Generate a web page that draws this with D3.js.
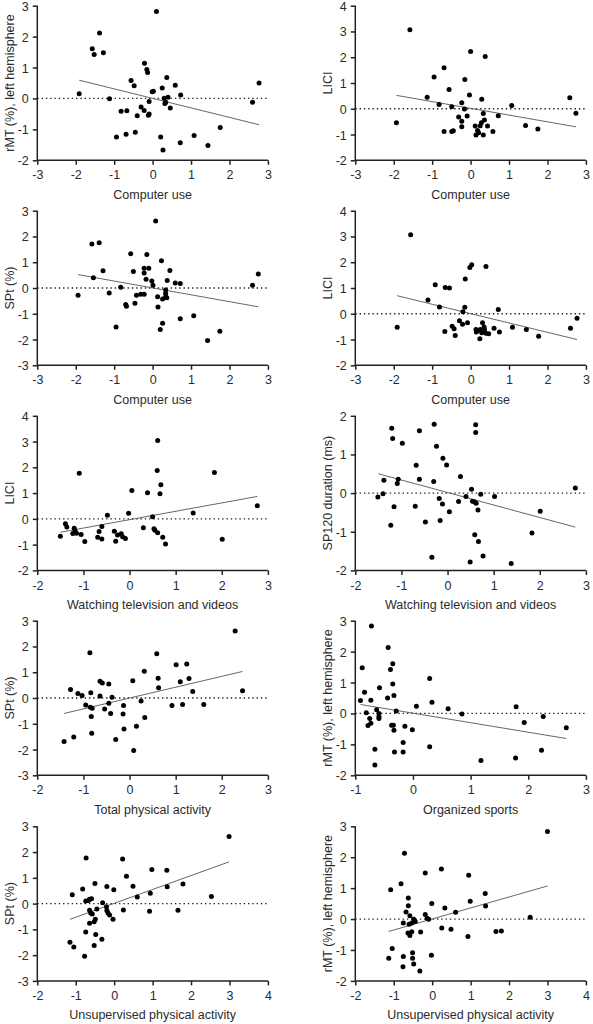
<!DOCTYPE html>
<html>
<head>
<meta charset="utf-8">
<script src="https://cdn.jsdelivr.net/npm/d3@7"></script>
<style>
html,body{margin:0;padding:0;background:#fff;}
svg{display:block;}
text{font-family:"Liberation Sans",Arial,Helvetica,sans-serif;fill:#2b2b2b;}
</style>
</head>
<body>
<svg id="chart" width="593" height="1024"></svg>
<script>
// ---------- Panel 1: Computer use vs rMT ----------
const p1x = [0.10,-1.38,-1.57,-1.52,-1.28,-0.21,-0.15,-0.13,-0.56,-0.48,0.37,0.59,0.73,0.25,-0.01,0.02,-1.91,-1.12,-0.09,0.30,0.40,0.32,0.34,0.46,-0.82,-0.67,-0.30,-0.22,-0.40,-0.09,-0.11,-0.94,-0.69,-0.45,0.21,0.27,0.72,1.08,1.44,1.76,2.60,2.77];
const p1y = [2.81,2.12,1.61,1.42,1.48,1.14,0.94,0.84,0.58,0.41,0.68,0.43,0.11,0.34,0.22,0.23,0.15,-0.01,-0.10,0.01,0.04,-0.16,-0.12,-0.31,-0.41,-0.40,-0.28,-0.39,-0.56,-0.50,-0.54,-1.25,-1.16,-1.09,-1.25,-1.67,-1.43,-1.20,-1.52,-0.94,-0.12,0.50];
const p1fitX = [-1.91,2.77];
const p1fitY = [0.59,-0.85];

// ---------- Panel 2: Computer use vs LICI ----------
const p2x = [-1.58,0.00,0.38,-0.69,-0.95,-0.15,-0.56,-0.03,-1.13,0.29,2.58,-0.82,-0.49,1.07,-0.23,-0.16,-0.09,-0.31,-0.23,0.33,0.72,2.74,-1.93,0.36,0.28,-0.23,0.12,0.25,0.44,1.43,1.75,-0.69,-0.45,-0.49,0.18,0.21,0.14,0.33,0.58];
const p2y = [3.07,2.22,2.03,1.59,1.23,1.14,0.75,0.53,0.45,0.37,0.43,0.17,0.08,0.13,0.23,-0.01,-0.28,-0.32,-0.48,-0.18,-0.27,-0.17,-0.54,-0.44,-0.54,-0.70,-0.67,-0.66,-0.67,-0.65,-0.79,-0.88,-0.85,-0.88,-0.84,-0.93,-1.02,-1.02,-0.88];
const p2fitX = [-1.93,2.74];
const p2fitY = [0.52,-0.70];

// ---------- Panel 3: Computer use vs SPt ----------
const p3x = [0.08,-1.58,-1.39,-0.57,-0.15,0.23,-1.29,-0.50,-0.22,-0.10,-0.22,0.45,-1.54,-0.17,-0.02,0.01,0.38,0.59,0.72,2.60,2.75,-1.94,-1.13,-0.83,-0.42,-0.31,-0.22,0.13,0.26,0.34,0.34,0.34,0.37,-0.46,-0.70,-0.68,0.14,-0.95,0.26,0.20,0.72,1.07,1.43,1.75];
const p3y = [2.60,1.71,1.76,1.33,1.30,1.06,0.67,0.64,0.77,0.77,0.58,0.68,0.40,0.34,0.27,0.11,0.29,0.19,0.17,0.11,0.54,-0.28,-0.19,0.03,-0.28,-0.24,-0.24,-0.34,-0.43,-0.08,-0.21,-0.34,-0.38,-0.59,-0.64,-0.71,-0.74,-1.51,-1.37,-1.61,-1.19,-1.08,-2.04,-1.68];
const p3fitX = [-1.94,2.75];
const p3fitY = [0.52,-0.73];

// ---------- Panel 4: Computer use vs LICI ----------
const p4x = [-1.56,-0.02,0.03,0.40,-0.14,-0.92,-0.66,-0.55,-1.11,-0.81,-0.15,-0.20,0.72,2.77,-1.91,-0.29,-0.21,-0.08,-0.48,-0.43,-0.67,-0.40,0.14,0.18,0.25,0.31,0.35,0.36,0.15,0.29,0.40,0.47,0.24,0.61,0.75,1.09,1.45,1.77,2.60];
const p4y = [3.07,1.80,1.90,1.83,1.35,1.13,1.02,1.00,0.53,0.26,0.25,0.08,0.17,-0.17,-0.52,-0.27,-0.41,-0.35,-0.48,-0.58,-0.69,-0.84,-0.61,-0.66,-0.61,-0.35,-0.51,-0.61,-0.71,-0.74,-0.76,-0.78,-0.97,-0.56,-0.71,-0.52,-0.61,-0.87,-0.56];
const p4fitX = [-1.91,2.77];
const p4fitY = [0.70,-1.00];

// ---------- Panel 5: Watching TV vs LICI ----------
const p5x = [0.61,0.60,1.84,-1.09,0.68,0.66,0.05,0.39,-0.48,-0.02,0.50,1.38,2.77,-1.39,-1.36,-1.20,-1.18,-1.23,-1.15,-1.05,-1.50,-0.97,-0.60,-0.66,-0.69,-0.60,-0.33,-0.30,-0.26,-0.18,-0.15,-0.09,0.30,0.53,0.55,0.61,0.72,0.78,2.01];
const p5y = [3.04,1.88,1.80,1.77,1.32,0.97,1.10,1.01,0.14,0.22,0.08,0.23,0.51,-0.19,-0.32,-0.36,-0.47,-0.57,-0.56,-0.61,-0.67,-0.88,-0.30,-0.49,-0.71,-0.78,-0.48,-0.87,-0.63,-0.58,-0.69,-0.76,-0.34,-0.38,-0.44,-0.54,-0.71,-0.98,-0.79];
const p5fitX = [-1.50,2.77];
const p5fitY = [-0.52,0.87];

// ---------- Panel 6: Watching TV vs SP120 duration ----------
const p6x = [-1.21,-1.19,-0.61,-0.29,0.61,0.61,-0.98,-0.24,-0.10,-0.02,-0.68,0.28,-1.38,-1.07,-1.09,-0.61,-0.30,0.52,2.77,-1.51,-1.40,0.40,0.72,1.02,-0.18,0.54,0.59,0.62,0.24,-0.11,-1.16,-0.70,0.04,0.66,2.01,-0.48,-0.16,-1.23,0.59,1.83,0.67,-0.34,0.77,0.49,1.38];
const p6y = [1.68,1.41,1.61,1.78,1.77,1.57,1.29,1.21,0.90,0.73,0.72,0.43,0.33,0.36,0.25,0.36,0.30,0.10,0.13,-0.10,-0.02,-0.09,-0.03,-0.09,-0.14,-0.21,-0.23,-0.26,-0.22,-0.28,-0.35,-0.34,-0.48,-0.44,-0.47,-0.75,-0.71,-0.83,-1.08,-1.03,-1.25,-1.66,-1.63,-1.78,-1.82];
const p6fitX = [-1.50,2.77];
const p6fitY = [0.50,-0.88];

// ---------- Panel 7: Total physical activity vs SPt ----------
const p7x = [2.29,-0.86,0.59,1.01,1.24,0.32,-0.64,-0.59,-0.45,0.07,0.62,1.10,1.29,-1.28,-1.12,-1.03,-0.84,-0.64,0.63,1.37,2.45,-0.38,-0.95,-0.85,-0.81,-0.54,-0.45,-0.41,-0.13,0.25,0.92,1.15,1.61,-0.83,-0.14,0.33,-0.12,0.15,-0.82,-1.21,-1.42,-0.30,0.09];
const p7y = [2.60,1.76,1.72,1.29,1.32,1.04,0.65,0.58,0.54,0.67,0.77,0.63,0.76,0.33,0.17,0.10,0.20,0.08,0.40,0.25,0.28,0.03,-0.27,-0.36,-0.40,-0.43,-0.20,-0.60,-0.29,-0.12,-0.29,-0.25,-0.25,-0.72,-0.62,-0.76,-1.20,-1.10,-1.37,-1.51,-1.69,-1.61,-2.04];
const p7fitX = [-1.42,2.45];
const p7fitY = [-0.60,1.03];

// ---------- Panel 8: Organized sports vs rMT ----------
const p8x = [-0.72,-0.43,-0.35,-0.39,-0.88,0.29,-0.35,-0.58,-0.84,-0.33,-0.44,-0.91,-0.73,0.33,0.06,0.61,1.79,-0.63,-0.29,-0.81,-0.59,-0.59,-0.59,-0.75,0.85,2.26,1.93,-0.73,-0.78,-0.37,-0.34,-0.14,-0.33,-0.01,2.66,-0.17,0.29,-0.66,-0.32,-0.17,2.23,1.78,1.18,-0.66];
const p8y = [2.83,2.13,1.61,1.42,1.48,1.13,0.95,0.83,0.69,0.58,0.50,0.42,0.43,0.36,0.23,0.15,0.22,0.12,0.08,0.02,0.00,-0.11,-0.16,-0.16,-0.02,-0.10,-0.29,-0.32,-0.39,-0.38,-0.38,-0.41,-0.54,-0.53,-0.46,-0.94,-1.08,-1.16,-1.25,-1.25,-1.19,-1.44,-1.52,-1.67];
const p8fitX = [-0.91,2.66];
const p8fitY = [0.29,-0.81];

// ---------- Panel 9: Unsupervised physical activity vs SPt ----------
const p9x = [2.99,-0.73,0.22,0.98,1.37,0.32,-0.82,-0.50,-0.19,-0.01,0.49,1.38,1.79,-1.09,0.94,0.60,2.53,-0.74,-0.67,-0.64,-0.59,-0.30,-0.20,-0.64,-0.61,-0.57,-0.45,-0.19,-0.16,-0.12,-0.03,0.24,0.92,1.66,-0.64,-0.52,-0.49,-0.74,-0.48,-0.32,-1.15,-1.05,-0.52,-0.77];
const p9y = [2.60,1.77,1.73,1.32,1.29,1.06,0.57,0.78,0.66,0.54,0.67,0.65,0.76,0.34,0.40,0.26,0.28,0.10,0.12,0.17,0.19,0.03,-0.12,-0.26,-0.36,-0.40,-0.21,-0.27,-0.36,-0.44,-0.61,-0.25,-0.30,-0.26,-0.76,-0.70,-0.61,-1.10,-1.20,-1.38,-1.50,-1.68,-1.63,-2.04];
const p9fitX = [-1.15,2.99];
const p9fitY = [-0.61,1.62];

// ---------- Panel 10: Unsupervised physical activity vs rMT ----------
const p10x = [3.00,-0.72,0.24,-0.18,0.95,-0.81,-1.08,1.38,-0.62,-0.01,0.99,-0.62,1.39,0.33,-0.68,0.61,-0.58,-0.18,-0.48,-0.44,-0.13,-0.09,2.55,-0.75,-0.60,-0.53,0.25,0.49,-0.63,-0.53,-0.58,-0.30,1.66,1.80,0.93,-1.04,-0.51,-1.13,-0.75,-0.51,-0.02,-0.76,-0.48,-0.32];
const p10y = [2.83,2.13,1.62,1.49,1.42,1.14,0.95,0.83,0.68,0.50,0.58,0.43,0.42,0.36,0.23,0.22,0.11,0.15,-0.01,-0.08,0.03,-0.01,0.06,-0.13,-0.17,-0.13,-0.29,-0.33,-0.45,-0.41,-0.53,-0.42,-0.40,-0.39,-0.56,-0.95,-1.09,-1.27,-1.21,-1.27,-1.17,-1.54,-1.45,-1.68];
const p10fitX = [-1.13,3.00];
const p10fitY = [-0.40,1.07];

// ---------- Axis ticks and labels ----------
const xTicksCU = [-3,-2,-1,0,1,2,3];
const xTicksTV = [-2,-1,0,1,2,3];
const xTicksOS = [-1,0,1,2,3];
const xTicksUP = [-2,-1,0,1,2,3,4];
const yTicksA = [-2,-1,0,1,2,3];
const yTicksB = [-2,-1,0,1,2,3,4];
const yTicksC = [-3,-2,-1,0,1,2,3];
const yTicksD = [-2,-1,0,1,2];

const xTitles = ["Computer use","Computer use","Computer use","Computer use",
  "Watching television and videos","Watching television and videos",
  "Total physical activity","Organized sports",
  "Unsupervised physical activity","Unsupervised physical activity"];
const yTitles = ["rMT (%), left hemisphere","LICI","SPt (%)","LICI","LICI",
  "SP120 duration (ms)","SPt (%)","rMT (%), left hemisphere","SPt (%)","rMT (%), left hemisphere"];

// ---------- Panel assembly ----------
const panels = [
  {x:p1x,y:p1y,fx:p1fitX,fy:p1fitY,xt:xTicksCU,yt:yTicksA},
  {x:p2x,y:p2y,fx:p2fitX,fy:p2fitY,xt:xTicksCU,yt:yTicksB},
  {x:p3x,y:p3y,fx:p3fitX,fy:p3fitY,xt:xTicksCU,yt:yTicksC},
  {x:p4x,y:p4y,fx:p4fitX,fy:p4fitY,xt:xTicksCU,yt:yTicksB},
  {x:p5x,y:p5y,fx:p5fitX,fy:p5fitY,xt:xTicksTV,yt:yTicksB},
  {x:p6x,y:p6y,fx:p6fitX,fy:p6fitY,xt:xTicksTV,yt:yTicksD},
  {x:p7x,y:p7y,fx:p7fitX,fy:p7fitY,xt:xTicksTV,yt:yTicksC},
  {x:p8x,y:p8y,fx:p8fitX,fy:p8fitY,xt:xTicksOS,yt:yTicksA},
  {x:p9x,y:p9y,fx:p9fitX,fy:p9fitY,xt:xTicksUP,yt:yTicksC},
  {x:p10x,y:p10y,fx:p10fitX,fy:p10fitY,xt:xTicksUP,yt:yTicksA}
];

const colLeft = [37.3, 355.3];
const plotW = 230.6;
const rowTop = [5.7, 210.7, 415.8, 620.7, 826.3];
const plotH = 154.6;
const ink = "#222";
const fs = 12.5;

const svg = d3.select("#chart");

panels.forEach((p, i) => {
  const col = i % 2, row = Math.floor(i / 2);
  const g = svg.append("g").attr("transform", `translate(${colLeft[col]},${rowTop[row]})`);
  const xs = d3.scaleLinear().domain(d3.extent(p.xt)).range([0, plotW]);
  const ys = d3.scaleLinear().domain(d3.extent(p.yt)).range([plotH, 0]);

  // zero reference line (dotted)
  g.append("line")
    .attr("x1", xs.range()[0]).attr("x2", xs.range()[1])
    .attr("y1", ys(0)).attr("y2", ys(0))
    .attr("stroke", ink).attr("stroke-width", 1.3)
    .attr("stroke-dasharray", "1.4,2.9");

  // regression line
  g.append("line")
    .attr("x1", xs(p.fx[0])).attr("y1", ys(p.fy[0]))
    .attr("x2", xs(p.fx[1])).attr("y2", ys(p.fy[1]))
    .attr("stroke", "#555").attr("stroke-width", 0.9);

  // points
  g.append("g").selectAll("circle")
    .data(d3.range(p.x.length))
    .join("circle")
    .attr("cx", k => xs(p.x[k]))
    .attr("cy", k => ys(p.y[k]))
    .attr("r", 2.5)
    .attr("fill", "#000");

  // axes
  const xAxis = d3.axisBottom(xs).tickValues(p.xt).tickSize(4.5).tickPadding(4).tickFormat(d3.format("d"));
  const yAxis = d3.axisLeft(ys).tickValues(p.yt).tickSize(4.5).tickPadding(4).tickFormat(d3.format("d"));
  const gx = g.append("g").attr("transform", `translate(0,${plotH})`).call(xAxis);
  const gy = g.append("g").call(yAxis);
  [gx, gy].forEach(a => {
    a.select(".domain").attr("stroke", ink).attr("stroke-width", 1.5)
      .attr("d", a === gx ? `M0,0H${plotW}` : `M0,${plotH}V0`);
    a.selectAll(".tick line").attr("stroke", ink).attr("stroke-width", 1.5);
    a.selectAll(".tick text")
      .attr("font-size", fs)
      .attr("font-family", '"Liberation Sans",Arial,sans-serif')
      .attr("fill", "#2b2b2b")
      .text(d => String(d).replace("\u2212", "-"));
  });
  gx.selectAll(".tick text").attr("dy", "0.85em");
  gy.selectAll(".tick text").attr("dy", "0.36em");

  // axis titles
  g.append("text")
    .attr("x", plotW / 2).attr("y", plotH + 38.5)
    .attr("text-anchor", "middle").attr("font-size", fs)
    .text(xTitles[i]);
  g.append("text")
    .attr("transform", `translate(${-23.5},${plotH / 2}) rotate(-90)`)
    .attr("text-anchor", "middle").attr("font-size", fs)
    .text(yTitles[i]);
});
</script>
</body>
</html>
